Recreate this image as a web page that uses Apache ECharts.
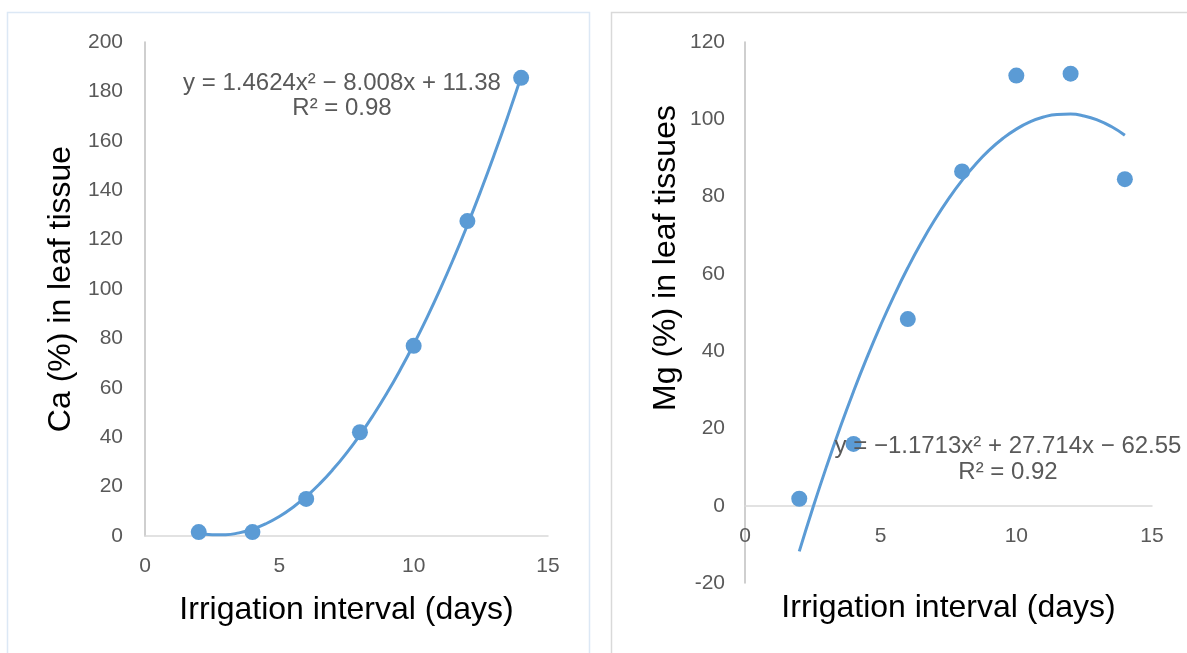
<!DOCTYPE html>
<html><head><meta charset="utf-8">
<script src="https://cdn.jsdelivr.net/npm/echarts@6/dist/echarts.min.js"></script>
<style>html,body{margin:0;padding:0;background:#fff}#c{width:1187px;height:653px}</style>
</head><body><div id="c"></div>
<script>
// Observed data (irrigation interval in days)
const days = [2, 4, 6, 8, 10, 12, 14];
const caValues = [1.6, 1.6, 15, 42, 77, 127.5, 185.5];
const mgValues = [1.8, 16, 48.3, 86.5, 111.3, 111.8, 84.5];
const trendDays = [2, 2.5, 3, 3.5, 4, 4.5, 5, 5.5, 6, 6.5, 7, 7.5, 8, 8.5, 9, 9.5, 10, 10.5, 11, 11.5, 12, 12.5, 13, 13.5, 14];
const caTrend = [1.21, 0.5, 0.52, 1.27, 2.75, 4.96, 7.9, 11.57, 15.98, 21.11, 26.98, 33.58, 40.91, 48.97, 57.76, 67.29, 77.54, 88.53, 100.24, 112.69, 125.87, 139.78, 154.42, 169.79, 185.9];
const mgTrend = [-11.81, -0.59, 10.05, 20.1, 29.57, 38.44, 46.74, 54.45, 61.57, 68.1, 74.05, 79.42, 84.2, 88.39, 92.0, 95.02, 97.46, 99.31, 100.58, 101.26, 101.35, 100.86, 99.78, 98.12, 95.87];
// Texts
const caEquation = 'y = 1.4624x\u00B2 \u2212 8.008x + 11.38';
const caR2 = 'R\u00B2 = 0.98';
const mgEquation = 'y = \u22121.1713x\u00B2 + 27.714x \u2212 62.55';
const mgR2 = 'R\u00B2 = 0.92';
const xTitle = 'Irrigation interval (days)';
const caTitle = 'Ca (%) in leaf tissue';
const mgTitle = 'Mg (%) in leaf tissues';

const FONT = '"Liberation Sans", Arial, sans-serif';
const BLUE = '#5b9bd5';
const pair = (xs, ys) => xs.map((x, i) => [x, ys[i]]);

const axisLabel = { color: '#595959', fontSize: 21, fontFamily: FONT };
const xAxisCommon = {
  type: 'value', min: 0, max: 15, interval: 5,
  axisLine: { show: true, onZero: false, lineStyle: { color: '#d9d9d9', width: 1.5 } },
  axisTick: { show: false }, splitLine: { show: false },
  axisLabel: Object.assign({ margin: 20 }, axisLabel),
  name: xTitle, nameLocation: 'middle',
  nameTextStyle: { color: '#000', fontSize: 32, fontFamily: FONT }
};
const yAxisCommon = {
  type: 'value',
  axisLine: { show: true, lineStyle: { color: '#bfbfbf', width: 1.5 } },
  axisTick: { show: false }, splitLine: { show: false },
  axisLabel: Object.assign({ margin: 22 }, axisLabel),
  nameLocation: 'middle',
  nameTextStyle: { color: '#000', fontSize: 32, fontFamily: FONT }
};

const chart = echarts.init(document.getElementById('c'));
chart.setOption({
  animation: false,
  backgroundColor: '#fff',
  grid: [
    { left: 145, right: 639, top: 42, bottom: 117, containLabel: false, outerBoundsMode: 'none' },
    { left: 745, right: 35, top: 42, bottom: 70, containLabel: false, outerBoundsMode: 'none' }
  ],
  xAxis: [
    Object.assign({}, xAxisCommon, { gridIndex: 0, nameGap: 58 }),
    Object.assign({}, xAxisCommon, { gridIndex: 1, offset: -77, nameGap: 86 })
  ],
  yAxis: [
    Object.assign({}, yAxisCommon, { gridIndex: 0, min: 0, max: 200, interval: 20, name: caTitle, nameGap: 68 }),
    Object.assign({}, yAxisCommon, { gridIndex: 1, min: -20, max: 120, interval: 20, axisLabel: Object.assign({ margin: 20 }, axisLabel) })
  ],
  series: [
    { type: 'line', xAxisIndex: 0, yAxisIndex: 0, data: pair(trendDays, caTrend), smooth: true,
      showSymbol: false, lineStyle: { color: BLUE, width: 3 }, z: 2 },
    { type: 'scatter', xAxisIndex: 0, yAxisIndex: 0, data: pair(days, caValues), symbolSize: 16,
      itemStyle: { color: BLUE, opacity: 1 }, z: 3 },
    { type: 'line', xAxisIndex: 1, yAxisIndex: 1, data: pair(trendDays, mgTrend), smooth: true,
      showSymbol: false, lineStyle: { color: BLUE, width: 3 }, z: 2 },
    { type: 'scatter', xAxisIndex: 1, yAxisIndex: 1, data: pair(days, mgValues), symbolSize: 16,
      itemStyle: { color: BLUE, opacity: 1 }, z: 3 }
  ],
  graphic: [
    { type: 'rect', shape: { x: 7.5, y: 12.5, width: 582, height: 700 }, z: -1,
      style: { fill: 'none', stroke: '#dce8f5', lineWidth: 1.5 }, silent: true },
    { type: 'rect', shape: { x: 611.5, y: 12.5, width: 600, height: 700 }, z: -1,
      style: { fill: 'none', stroke: '#d9d9d9', lineWidth: 1.5 }, silent: true },
    { type: 'text', x: 666, y: 258, rotation: Math.PI / 2, z: 10,
      style: { text: mgTitle, fill: '#000', font: '32px ' + FONT, textAlign: 'center', textVerticalAlign: 'middle' } },
    { type: 'text', x: 342, y: 83, z: 10, style: { text: caEquation, fill: '#595959', font: '24px ' + FONT, textAlign: 'center', textVerticalAlign: 'middle' } },
    { type: 'text', x: 342, y: 108, z: 10, style: { text: caR2, fill: '#595959', font: '24px ' + FONT, textAlign: 'center', textVerticalAlign: 'middle' } },
    { type: 'text', x: 1008, y: 446, z: 10, style: { text: mgEquation, fill: '#595959', font: '24px ' + FONT, textAlign: 'center', textVerticalAlign: 'middle' } },
    { type: 'text', x: 1008, y: 472, z: 10, style: { text: mgR2, fill: '#595959', font: '24px ' + FONT, textAlign: 'center', textVerticalAlign: 'middle' } }
  ]
});
</script></body></html>
